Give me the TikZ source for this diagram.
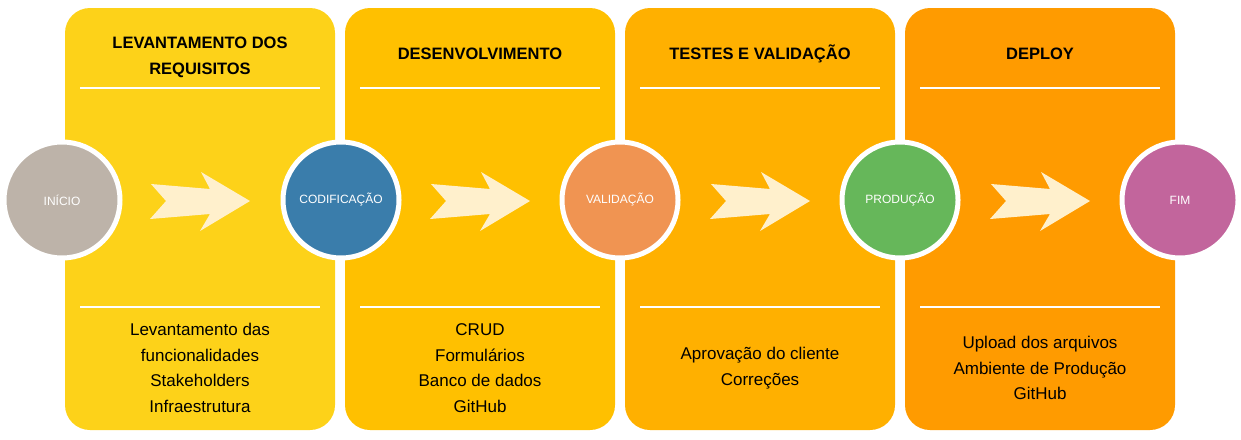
\documentclass[tikz,border=0pt]{standalone}
\usepackage{fontspec}
\setmainfont{Liberation Sans}
\definecolor{p1}{HTML}{FDD219}
\definecolor{p2}{HTML}{FFC000}
\definecolor{p3}{HTML}{FFB000}
\definecolor{p4}{HTML}{FF9B00}
\definecolor{arr}{HTML}{FFF0CC}
\definecolor{c1}{HTML}{BDB3A9}
\definecolor{c2}{HTML}{3A7DAB}
\definecolor{c3}{HTML}{F09452}
\definecolor{c4}{HTML}{66B75A}
\definecolor{c5}{HTML}{C2659C}
\begin{document}
\begin{tikzpicture}[x=1pt,y=-1pt,
  panel/.style={rounded corners=25pt},
  sep/.style={white,line width=1.5pt},
  circ/.style={circle,draw=white,line width=5pt,minimum size=116pt,inner sep=0pt,text=white,font=\fontsize{12}{14}\selectfont},
  ttl/.style={font=\bfseries\fontsize{16.5}{26}\selectfont,align=center,text=black},
  body/.style={font=\fontsize{17}{25.5}\selectfont,align=center,text=black},
  arrw/.style={fill=arr}]
\useasboundingbox (0,0) rectangle (1241,439);
\fill[p1,panel] (65,8) rectangle (335,430);
\fill[p2,panel] (345,8) rectangle (615,430);
\fill[p3,panel] (625,8) rectangle (895,430);
\fill[p4,panel] (905,8) rectangle (1175,430);
\foreach \x in {80,360,640,920}{
  \draw[sep] (\x,88) -- (\x+240,88);
  \draw[sep] (\x,307) -- (\x+240,307);
}
\foreach \x in {0,280,560,840}{
  \fill[arrw] (\x+151,184) -- (\x+210,189) -- (\x+201,172) -- (\x+250,201) -- (\x+200,231) -- (\x+210,214) -- (\x+150,219) -- (\x+166,201) -- cycle;
}
\node[ttl] (t1) at (200,57) {LEVANTAMENTO DOS\\REQUISITOS};
\node[ttl] (t2) at (480,54) {DESENVOLVIMENTO};
\node[ttl] (t3) at (760,54) {TESTES E VALIDAÇÃO};
\node[ttl] (t4) at (1040,54) {DEPLOY};
\node[body] (b1) at (200,368) {Levantamento das\\funcionalidades\\Stakeholders\\Infraestrutura};
\node[body] (b2) at (480,368) {CRUD\\Formulários\\Banco de dados\\GitHub};
\node[body] (b3) at (760,368) {Aprovação do cliente\\Correções};
\node[body] (b4) at (1040,368) {Upload dos arquivos\\Ambiente de Produção\\GitHub};
\node[circ,fill=c1] (n1) at (62,200) {INÍCIO};
\node[circ,fill=c2] (n2) at (341,200) {CODIFICAÇÃO};
\node[circ,fill=c3] (n3) at (620,200) {VALIDAÇÃO};
\node[circ,fill=c4] (n4) at (900,200) {PRODUÇÃO};
\node[circ,fill=c5] (n5) at (1180,200) {FIM};
\end{tikzpicture}
\end{document}
